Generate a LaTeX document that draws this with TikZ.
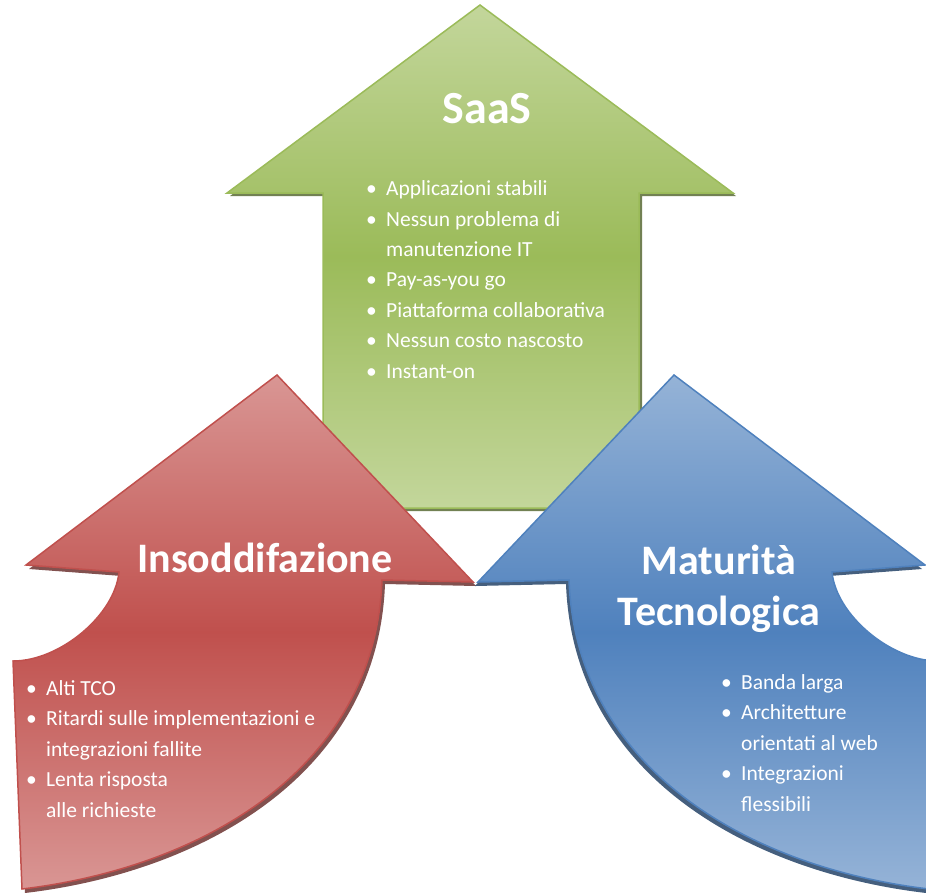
\documentclass[tikz,border=0pt]{standalone}
\usepackage{fontspec}
\setmainfont{Carlito}

\definecolor{grnlight}{HTML}{C3D69B}
\definecolor{grnmid}{HTML}{9BBB59}
\definecolor{grnshadow}{HTML}{4F6228}
\definecolor{redlight}{HTML}{D99694}
\definecolor{redmid}{HTML}{C0504D}
\definecolor{redshadow}{HTML}{632523}
\definecolor{blulight}{HTML}{95B3D7}
\definecolor{blumid}{HTML}{4F81BD}
\definecolor{blushadow}{HTML}{17375E}

% outlines of the three arrows (pixel units)
\newcommand{\saasshape}{(480,5) -- (733,193) -- (639,193) -- (639,508) -- (323,508) -- (323,193) -- (227,193) -- cycle}
\newcommand{\insodshape}{(277,375) -- (473,582) -- (382,580) .. controls (375,770) and (200,868) .. (22,889) -- (13,661) .. controls (60,661) and (115,615) .. (119,572) -- (26,565) -- cycle}
\newcommand{\matushape}{(674,375) -- (478,582) -- (569,580) .. controls (576,770) and (751,868) .. (929,889) -- (938,661) .. controls (891,661) and (836,615) .. (832,572) -- (925,565) -- cycle}

\newcommand{\bulitem}{\makebox[20pt][l]{\textbullet}}
\newcommand{\bulcont}{\hspace*{20pt}}

\begin{document}
\begin{tikzpicture}[x=1pt,y=-1pt,
	title/.style={text=white,font=\fontsize{42}{51}\selectfont\bfseries,inner sep=0pt,anchor=base,align=center},
	list/.style={text=white,font=\fontsize{21.5}{30.4}\selectfont,inner sep=0pt,anchor=base west,align=left},
	shadow/.style={fill=#1,opacity=0.8},
	greenarrow/.style={draw=grnmid,line width=1.5pt,top color=grnlight,bottom color=grnlight,middle color=grnmid},
	redarrow/.style={draw=redmid,line width=1.5pt,top color=redlight,bottom color=redlight,middle color=redmid},
	bluearrow/.style={draw=blumid,line width=1.5pt,top color=blulight,bottom color=blulight,middle color=blumid}]
	\useasboundingbox (0,0) rectangle (926,892);
	\clip (0,0) rectangle (926,892);

	% SaaS
	\begin{scope}[shift={(3,3)}]
		\fill[shadow=grnshadow] \saasshape;
	\end{scope}
	\draw[greenarrow] \saasshape;
	\node[title,font=\fontsize{46}{55}\selectfont\bfseries] (saas) at (487,123) {SaaS};
	% base of a multi-line node = its last line
	\node[list] (saaslist) at (366,378) {\bulitem Applicazioni stabili\\
		\bulitem Nessun problema di\\
		\bulcont manutenzione IT\\
		\bulitem Pay-as-you go\\
		\bulitem Piattaforma collaborativa\\
		\bulitem Nessun costo nascosto\\
		\bulitem Instant-on};

	% Insoddifazione
	\begin{scope}[shift={(3,4)}]
		\fill[shadow=redshadow] \insodshape;
	\end{scope}
	\draw[redarrow] \insodshape;
	\node[title] (insod) at (265,572) {Insoddifazione};
	\node[list] (insodlist) at (26,817) {\bulitem Alti TCO\\
		\bulitem Ritardi sulle implementazioni e\\
		\bulcont integrazioni fallite\\
		\bulitem Lenta risposta\\
		\bulcont alle richieste};

	% Maturita Tecnologica
	\begin{scope}[shift={(-3,4)}]
		\fill[shadow=blushadow] \matushape;
	\end{scope}
	\draw[bluearrow] \matushape;
	\node[title] (matu) at (719,625) {Maturità\\Tecnologica};
	\node[list] (matulist) at (721,811) {\bulitem Banda larga\\
		\bulitem Architetture\\
		\bulcont orientati al web\\
		\bulitem Integrazioni\\
		\bulcont flessibili};
\end{tikzpicture}
\end{document}
